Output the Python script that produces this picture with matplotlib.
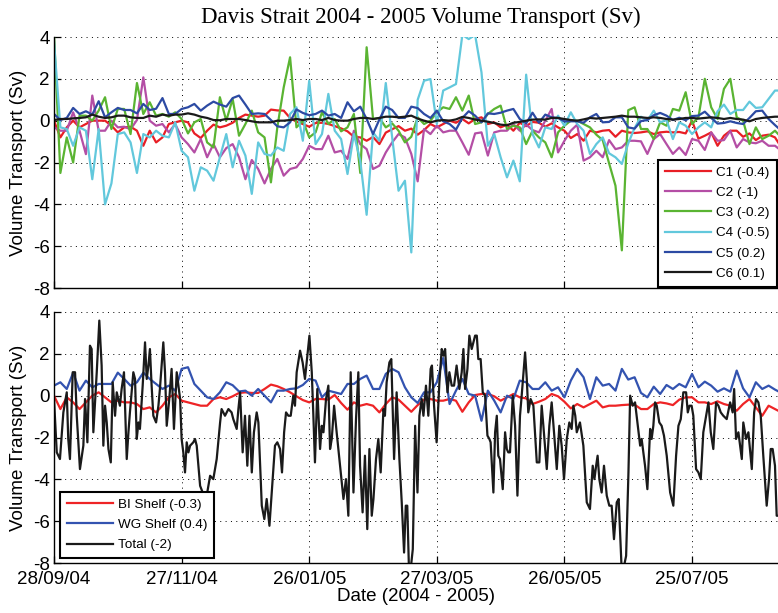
import numpy as np
import pandas as pd
import matplotlib
matplotlib.use("Agg")
import matplotlib.pyplot as plt

plt.rcParams["font.family"] = ["Liberation Sans", "DejaVu Sans"]
plt.rcParams["axes.unicode_minus"] = False

# ---------------------------------------------------------------------------
# Davis Strait mooring transports (Sv); mooring series on a 3-day grid
# starting 28 Sep 2004, total transport at its own (denser) sample days
# ---------------------------------------------------------------------------
start_date = "2004-09-28"
sample_step_days = 3
n_samples = 115

c1 = [0.0, -0.8, -0.32, 0.0, -0.32, -0.16, 0.0, 0.0, 0.0, -0.24, -0.56, -0.32, -0.29, -0.48,
      -1.2, -0.48, -1.04, -0.8, -0.16, -0.08, 0.0, -0.08, -0.61, -0.83, -0.48, -0.19, -0.32, -0.24,
      -0.1, 0.13, 0.29, 0.24, 0.19, 0.24, 0.53, 0.49, 0.48, 0.13, -0.05, -0.16, -0.29, -0.11, -0.1,
      -0.16, -0.26, -0.37, -0.51, -0.77, -0.8, -0.96, -0.78, -1.12, -0.57, -0.41, -0.26, -0.48, -0.38,
      -0.67, -0.45, -0.16, -0.32, -0.16, 0.0, -0.1, 0.08, -0.13, 0.08, 0.16, -0.16, -0.08, -0.32,
      -0.19, -0.48, -0.1, -0.26, -0.06, -0.1, -0.29, -0.13, -0.32, -0.48, -0.83, -0.64, -0.96, -0.48,
      -0.56, -0.48, -0.45, -0.77, -0.48, -0.56, -0.59, -0.56, -0.51, -0.64, -0.56, -0.53, -0.56, -0.54,
      -0.61, 0.0, -0.86, -0.72, -0.56, -1.2, -0.72, -0.48, -0.48, -0.77, -0.61, -0.93, -0.72, -0.67,
      -0.8, -1.28]

c2 = [-0.32, -0.48, -0.48, 0.4, -0.48, -1.6, 1.2, -0.48, -0.48, 0.0, -0.32, -0.29, -0.41, 0.03,
      2.07, 0.0, -0.24, -0.16, -0.56, -0.16, -0.8, -1.12, -1.52, -0.88, -1.75, -1.12, -1.75, -1.31,
      -1.12, -1.75, -2.8, -1.88, -2.31, -3.0, -2.31, -1.83, -2.63, -2.31, -2.23, -1.83, -1.2, -1.36,
      -1.36, -0.72, -1.52, -1.44, -1.83, -0.48, -1.12, -1.36, -2.31, -2.15, -1.52, -1.04, -0.64, -0.8,
      -1.59,
      -2.9, -0.4, -0.64, -0.24, -0.56, -0.48, -0.48, -1.04, -1.63, -0.61, -0.56, -1.67, -0.56, -0.48,
      -0.48, -0.16, -0.48, -0.19, -0.45, -0.56, 0.0, 0.56, -1.52, -0.96, -0.48, -0.19, -1.91, -1.75,
      -1.44, -1.75, -0.93, -1.36, -1.28, -0.96, -0.96, -0.99, -1.59, -0.88, -0.64, -1.12, -1.59, -1.28,
      -1.64, -0.88, -0.96, -1.4, -0.56, -0.96, -0.93, -0.48, -1.28, -0.88, -1.04, -1.08, -0.96, -1.2,
      -1.2, -1.44]

c3 = [4.1, -2.5, -0.8, -2.0, 0.24, 0.24, 0.0, 0.48, 1.12, -0.4, 0.56, 0.56, -0.64, 1.8,
      0.32, 0.88, 0.24, 0.32, 0.19, 0.4, 0.08, -0.61, -0.08, 0.08, -1.04, -1.28, 1.12, 0.0,
      1.04, -0.72, -0.16, 0.48, -0.56, -0.8, -2.95, -0.32, 1.59, 3.03, -0.32, 0.0, -0.8, -0.56,
      0.4, -0.16, 0.08, -0.51, -0.32, 0.32, -2.5, 3.51, 0.08, 0.13, -0.32, -0.13, -0.48, -1.04,
      -0.77,
      0.16, -0.16, 0.0, 0.4, 0.64, 0.56, 1.12, 0.48, 1.2, -0.16, -0.08, 0.32, 0.56, 0.72,
      -0.4, -0.24, -0.32, -1.12, -0.48, -0.8, -1.04, -1.75, -0.56, -0.24, 0.0, 0.0, -0.16, -0.32,
      -0.67, -0.93, -2.04, -3.11, -6.2, 0.5, 0.64, -0.4, -0.4, -0.88, -0.08, -0.24, 0.56, 0.48,
      1.36, -0.16, 0.16, 2.0, 0.64, 0.08, 1.52, 2.0, 0.16, 0.0, -1.12, -0.32, -0.88, -0.72,
      -0.48, -0.8]

c4 = [3.8, -0.32, -0.4, -1.2, -0.32, -0.48, -2.8, -0.4, -4.0, -3.0, -0.64, -0.56, -1.04, -2.5,
      -0.64, -0.8, -0.48, -0.72, -0.8, -0.08, -1.44, -1.75, -3.35, -2.23, -2.39, -2.87, -1.75, -0.64,
      -2.23, -0.96, -1.67, -3.5, -1.04, -1.59, -1.67, -1.28, -1.44, 0.32, 0.64, -0.96, 1.91, -1.12,
      -0.64, 1.28, -0.48, -0.88, -2.55, -0.64, -1.91, -4.5, -0.56, -0.96, 1.8, -0.8, -3.35, -2.87,
      -6.3,
      1.0, 1.91, 1.99, -0.16, 1.44, 1.59, 1.75, 4.1, 3.9, 4.1, 2.31, -1.2, -0.64, -1.75,
      -2.71, -1.91, -2.9, 2.2, -0.64, -1.28, -0.32, -0.4, 0.24, -0.24, 0.4, -0.16, -0.48, -1.59,
      -1.12, -0.8, -1.56, -1.75, -2.07, -1.08, -0.35, 0.19, 0.0, 0.48, -0.08, 0.03, -0.88, -0.08,
      -0.24, -0.64, -0.32, -0.08, -0.32, 0.45, 0.77, 0.32, 0.51, 0.51, 0.91, 0.61, 0.64, 1.04,
      1.44, 1.44]

c5 = [0.32, 0.03, 0.13, 0.61, 0.32, 0.45, 0.29, 0.93, 0.16, 0.4, 0.61, 0.51, 0.51, 0.35,
      0.8, 0.51, 0.57, 1.08, 0.32, 0.32, 0.56, 0.64, 0.8, 0.48, 0.72, 0.91, 0.77, 0.67,
      1.08, 1.2, 0.77, 0.32, 0.35, 0.32, 0.03, -0.27, -0.32, -0.08, 0.54, 0.37, 0.26, 0.32,
      0.48, 0.24, 0.32, 0.13, 0.88, 0.45, 0.67, 0.08, -0.64, 0.06, 0.67, 0.51, 0.13, 0.13,
      0.67,
      0.6, 0.32, 0.13, 0.48, -0.03, -0.16, -0.43, 0.13, 0.45, 0.24, -0.08, 0.35, 0.32, 0.38,
      0.48, 0.56, 0.08, -0.13, 0.38, -0.1, 0.29, 0.16, 0.13, -0.03, -0.03, -0.03, -0.1, 0.16,
      0.32, -0.08, -0.06, 0.16, 0.16, -0.32, -0.38, -0.02, 0.03, 0.26, 0.37, 0.24, 0.03, 0.14,
      0.02, 0.22, 0.24, 0.43, 0.13, -0.14, -0.11, -0.03, -0.11, -0.16, 0.13, 0.45, 0.48, 0.08,
      -0.21, -0.48]

c6 = [0.03, 0.08, 0.08, 0.11, 0.13, 0.16, 0.29, 0.19, 0.13, 0.16, 0.24, 0.24, 0.16, 0.13,
      0.13, 0.24, 0.19, 0.29, 0.24, 0.29, 0.29, 0.35, 0.29, 0.19, 0.13, 0.03, 0.02, 0.08,
      0.08, 0.08, 0.03, -0.03, -0.08, -0.08, -0.08, 0.0, 0.0, 0.03, 0.08, 0.03, 0.08, 0.08,
      0.03, 0.13, 0.03, 0.0, 0.0, 0.08, 0.13, 0.13, 0.08, 0.13, 0.19, 0.19, 0.16, 0.19,
      0.24,
      0.1, 0.0, -0.08, 0.0, 0.03, 0.0, 0.06, 0.18, 0.13, 0.05, 0.0, -0.05, -0.11, -0.19,
      -0.22, -0.1, -0.06, 0.0, 0.05, 0.06, 0.05, 0.13, 0.13, 0.08, 0.03, 0.0, 0.06, 0.13,
      0.1, 0.13, 0.16, 0.19, 0.24, 0.19, 0.19, 0.16, 0.13, 0.16, 0.13, 0.08, 0.05, 0.08,
      0.13, 0.13, 0.1, 0.13, 0.16, 0.13, 0.08, 0.13, 0.08, 0.05, -0.03, 0.08, 0.13, 0.16,
      0.19, 0.19]

bi_shelf = [0.0, -0.64, -0.08, -0.32, -0.64, -0.32, 0.0, 0.16, -0.08, -0.32, -0.24, -0.32, -0.32, -0.4,
            -0.64, -0.56, -0.8, -0.48, -0.08, 0.08, -0.24, -0.32, -0.4, -0.48, -0.48, -0.16, -0.08, -0.16,
            -0.03, 0.13, 0.16, 0.13, 0.13, 0.32, 0.53, 0.45, 0.32, 0.16, -0.03, -0.21, -0.32, -0.16,
            -0.16, -0.19, 0.03, -0.35, -0.67, -0.32, -0.48, -0.4, -0.48, -0.8, -0.4, -0.08, -0.19, -0.48,
            -0.77,
            -0.45, -0.19, -0.16, -0.24, -0.24, -0.16, -0.24, -0.77, -0.32, 0.03, 0.08, 0.08, -0.03, -0.24,
            -0.08, 0.08, -0.08, -0.13, -0.4, -0.29, -0.16, 0.08, -0.03, -0.29, -0.61, -0.4, -0.56, -0.4,
            -0.24, -0.56, -0.48, -0.48, -0.45, -0.43, -0.43, -0.64, -0.64, -0.4, -0.32, -0.37, -0.45, -0.19,
            -0.08, -0.08, -0.32, -0.32, -0.4, -0.27, -0.4, -0.48, -0.72, -0.4, -0.16, -0.56, -0.96, -0.48,
            -0.64, -0.8]

wg_shelf = [0.48, 0.64, 0.32, 1.1, 0.24, 0.72, 0.4, 0.56, 0.56, 0.56, 1.1, 0.8, 0.48, 0.64,
            1.1, 0.8, 0.56, 0.32, 0.48, 0.24, 1.28, 1.36, 0.56, 0.24, -0.08, -0.16, 0.16, 0.64,
            0.5, 0.2, 0.24, 0.0, 0.32, 0.0, -0.32, 0.24, 0.24, 0.32, 0.35, 0.51, 0.8, 0.72,
            -0.08, 0.24, 0.16, 0.08, 0.56, 0.56, 0.8, 0.96, 0.32, 0.32, 1.04, 1.28, 1.12, 0.4,
            -0.08,
            -0.35, 0.16, 0.16, 0.64, 1.8, -0.4, 0.24, 0.8, 0.08, 0.0, -1.2, 0.24, -0.24, -0.8,
            0.0, -0.16, 0.72, 0.64, 0.32, 0.32, 0.64, 0.24, 0.4, -0.08, 0.72, 1.28, 0.88, -0.16,
            0.88, 0.48, 0.56, 0.24, 1.28, 0.77, 0.88, 0.13, -0.08, 0.43, 0.08, 0.51, 0.32, 0.56,
            0.4, 1.04, 0.4, 0.67, 0.48, 0.19, 0.35, 0.19, 1.2, 0.35, -0.08, 0.64, 0.32, 0.48,
            0.29, 0.13]

# Total transport: sample day (days after 28 Sep 2004) and value (Sv)
total_days = [
    0.0, 1.3, 2.8, 4.4, 6.0, 6.7, 7.5, 8.8, 9.9, 10.7, 12.2, 13.8, 14.6, 15.7, 16.9, 17.7, 18.5,
    20.1, 21.3, 22.4, 23.2, 24.0, 24.8, 25.6, 26.7, 27.6, 28.7, 29.5, 31.0, 31.8, 32.9, 34.2, 35.0,
    35.7, 37.3, 38.1, 38.9, 39.7, 40.4, 41.7, 42.8, 43.6, 44.4, 45.1, 45.9, 46.7, 48.0, 49.1, 49.8,
    51.4, 52.2, 53.0, 54.2, 55.3, 56.4, 57.7, 59.3, 60.0, 60.8, 61.6, 62.4, 63.2, 64.0, 65.5, 66.3,
    67.1, 67.9, 68.7, 69.9, 71.0, 72.6, 73.4, 74.9, 76.5, 78.1, 78.8, 80.4, 82.0, 83.5, 84.3, 85.9,
    86.7, 87.5, 88.7, 89.8, 90.9, 91.9, 93.0, 94.0, 95.3, 96.1, 97.7, 98.9, 100.0, 101.3, 102.4,
    103.9, 105.0, 106.3, 107.2, 108.2, 109.1, 110.2, 111.3, 112.5, 113.3, 114.1, 115.7, 116.9,
    118.0, 119.1, 120.1, 121.2, 121.9, 122.7, 123.8, 125.1, 125.9, 126.7, 127.9, 129.0, 129.8,
    130.6, 131.7, 132.9, 134.5, 136.1, 137.3, 138.4, 139.5, 140.8, 142.0, 143.1, 143.9, 145.1,
    146.2, 147.3, 148.3, 149.4, 150.2, 151.4, 152.5, 153.6, 154.9, 155.6, 156.4, 157.7, 158.6,
    159.9, 161.1, 162.4, 163.5, 164.6, 165.4, 166.1, 166.9, 167.7, 168.7, 169.8, 170.9, 171.8,
    172.9, 173.7, 174.9, 176.0, 177.1, 177.7, 178.7, 179.9, 181.2, 182.3, 183.1, 183.9, 185.0,
    185.9, 187.0, 188.1, 189.3, 190.6, 191.7, 192.5, 193.3, 194.4, 195.3, 196.4, 198.0, 198.8,
    199.5, 200.6, 201.6, 202.7, 203.8, 204.7, 205.3, 206.6, 207.4, 208.2, 208.9, 209.7, 211.0,
    212.1, 212.9, 213.6, 214.4, 215.7, 216.8, 217.9, 219.1, 219.9, 221.5, 222.3, 223.0, 224.1,
    225.4, 227.0, 228.2, 229.3, 230.1, 231.7, 232.9, 234.0, 235.1, 236.4, 237.6, 238.7, 239.8,
    241.1, 242.3, 243.4, 244.2, 245.1, 245.8, 247.3, 248.9, 250.5, 252.0, 253.3, 254.1, 254.9,
    255.6,
    256.4, 257.5, 258.6, 259.9, 261.1, 262.2, 263.3, 264.6, 265.5, 266.9, 267.7, 269.0, 270.1,
    270.9, 272.1, 273.2, 274.3, 275.6, 276.3, 277.9, 279.0, 280.3, 281.0, 281.8, 282.6, 283.4,
    284.6, 285.7, 286.8, 288.1, 289.7, 291.2, 292.5, 293.6, 294.7, 295.9, 297.2, 298.0, 298.8,
    299.8, 300.6, 301.9, 303.0, 304.1, 305.3, 306.6, 307.7, 308.8, 310.0, 311.3, 312.4, 313.5,
    314.7, 316.3, 317.9, 319.1, 319.8, 320.7, 321.8, 322.6, 323.4, 324.1, 325.4, 326.5, 328.1,
    329.2, 330.1, 331.2, 332.3, 333.5, 335.1, 336.2, 337.0, 337.9, 339.0, 339.8, 342.0]

total = [
    -0.16, -2.71, -3.03, -0.80, 0.16, -2.07, -3.03, 1.12, 1.12, -0.96, -3.51, -2.39, -0.16, -2.23,
    2.39, 2.23, -1.75, 1.12, 3.59, 1.44, -2.39, -0.48, -1.28, -2.55, -3.19, 0.64, -0.96, 0.16,
    -0.48, 0.32, 1.12, -3.03, -1.75, -0.80, 1.12, 0.80, -2.07, -1.28, -1.59, 0.48, 2.55, 0.80,
    1.44, 2.23, 0.48, -0.96, -1.28, -0.48, 0.32, 2.55, 1.12, -1.44, -0.16, 1.28, -1.59, 1.12,
    -0.16, -2.07, -2.71, -3.67, -2.23, -2.71, -2.39, -2.23, -2.07, -2.39, -3.35, -4.31, -4.63,
    -5.26, -4.31, -3.83, -3.99, -3.03, -1.28, -0.64, -0.96, -0.64, -0.80, -1.12, -1.59,
    -0.64, 0.16, -2.71, -0.96, -3.35, -0.96, -3.67, -1.75, -0.80, -1.28, -5.26, -5.90, -4.94,
    -6.22, -4.63, -2.39, -2.23, -2.55, -3.67, -1.75, -0.80, -0.96, -0.96, 0.00, -0.48, 1.12,
    2.15, 1.59, 0.80, 1.91, 2.87, 1.12, -0.80, -3.19, 0.32, -2.55, -1.44, -1.75, -0.16, 0.48,
    -2.55, -2.07, -0.48, -1.75, -3.35, -4.94, -3.99, -5.74, 1.12, -4.63, -1.12, 1.12, -3.35,
    -5.58, -2.87, -6.38, -2.55, -5.74, -4.94, -3.03, -2.07, -3.67, -0.64, -0.96, 0.64, 1.59,
    1.75, -3.03, 0.16, -3.03, -5.10, -7.50, -5.26, -5.26, -8.3, -8.3, -7.34, -1.44, -4.63, -0.96,
    -0.16, -0.96, 0.48, -0.96, 1.28, 1.44, -0.48, -2.23, 0.64, 2.23, 1.91, 2.23, 0.16, 1.12,
    0.48, 0.48, 1.44, 0.32, 1.12, 2.23, 0.32, 1.28, 2.87, 2.23, 2.87, 2.87, 1.75, 1.75, 0.16,
    0.00, -1.91, -2.07, -2.23, -4.63, -1.75, -0.96, -2.87, -3.03, -4.47, -1.75, -2.55, -2.71,
    -2.71, 0.00, -1.44, -4.78, -0.96, 0.00, 2.07, 0.80, -0.80, -0.16, -0.48, -3.19, -3.19, -0.48,
    -1.44, -3.51, -1.44, -0.32, -1.75, -3.51, -1.44, -2.39, -3.99, -2.07, -1.28, -1.59, -0.48,
    -0.96, -1.75, -1.28, -2.39, -5.10, -5.42, -3.35, -3.99, -3.35, -2.87,
    -3.99, -4.63, -3.35, -4.78, -5.26, -5.26, -6.86, -5.10, -4.94, -8.3, -8.3, -7.66, -3.67,
    0.00, -0.48, -0.32, -1.28, -2.39, -2.07, -3.35, -4.47, -1.59, -2.07, -1.44, -0.32, -0.48,
    -1.28, -1.44, -1.91, -2.87, -4.63, -5.26, -2.87, -1.44, -1.12, 0.16, 0.16, -0.80, -0.48,
    -0.48, -0.96, -3.51, -3.67, -3.99, -1.75, -0.96, -0.32, -1.75, -2.55, -0.32, -0.48, -0.80,
    -0.96, -1.12, -0.32, -0.80, 0.32, -2.07, -1.75, -2.39, -3.03, -1.28, -2.07, -1.75, -3.51,
    -0.80, -0.16, -0.32, -0.96, -2.87, -5.26, -3.99, -2.55, -2.55, -3.35, -5.74, -5.74]

upper_labels = ["C1 (-0.4)", "C2 (-1)", "C3 (-0.2)", "C4 (-0.5)", "C5 (0.2)", "C6 (0.1)"]
upper_colors = ["#e81e25", "#b44ea5", "#5ab432", "#62c8dc", "#2c4aa3", "#1a1a1a"]
lower_labels = ["BI Shelf (-0.3)", "WG Shelf (0.4)", "Total (-2)"]
lower_colors = ["#ee2426", "#3353b0", "#1a1a1a"]

date_tick_labels = ["28/09/04", "27/11/04", "26/01/05", "27/03/05", "26/05/05", "25/07/05"]
y_ticks = [-8, -6, -4, -2, 0, 2, 4]

x_start = pd.Timestamp(start_date)
dates = pd.date_range(start_date, periods=n_samples, freq=f"{sample_step_days}D")
total_dates = x_start + pd.to_timedelta(total_days, unit="D")
tick_dates = pd.to_datetime(date_tick_labels, format="%d/%m/%y")
x_end = x_start + pd.Timedelta(hours=8170)

# ---------------------------------------------------------------------------
W, H = 778, 613
fig = plt.figure(figsize=(W / 100, H / 100), dpi=100)
left = 54 / W
width = 1.0 - left
ax1 = fig.add_axes([left, 1 - 288 / H, width, (288 - 37) / H])
ax2 = fig.add_axes([left, 1 - 563 / H, width, (563 - 312) / H])

upper_series = [c1, c2, c3, c4, c5, c6]
upper_lines = []
for vals, col in zip(upper_series, upper_colors):
    ln, = ax1.plot(dates, vals, color=col, lw=1.6, solid_joinstyle="round")
    upper_lines.append(ln)

lower_lines = []
for x, vals, col in zip([dates, dates, total_dates], [bi_shelf, wg_shelf, total], lower_colors):
    ln, = ax2.plot(x, vals, color=col, lw=1.6, solid_joinstyle="round")
    lower_lines.append(ln)

for ax in (ax1, ax2):
    ax.set_xlim(x_start, x_end)
    ax.set_ylim(-8, 4)
    ax.set_yticks(y_ticks)
    ax.set_yticklabels([str(v) for v in y_ticks])
    ax.set_xticks(tick_dates)
    ax.grid(True, color="k", linestyle=(0, (1, 4.5)), linewidth=0.7)
    ax.spines["top"].set_visible(False)
    ax.spines["right"].set_visible(False)
    for s in ("left", "bottom"):
        ax.spines[s].set_linewidth(1.0)
    ax.tick_params(direction="in", length=5, width=0.9, labelsize=13.5, pad=3,
                   top=False, right=False)
    ax.set_ylabel("Volume Transport (Sv)", fontsize=13.5, labelpad=4)

ax1.set_xticklabels([])
ax2.set_xticklabels(date_tick_labels)
ax2.tick_params(axis="x", pad=5.5)
ax2.set_xlabel("Date (2004 - 2005)", fontsize=13.5, labelpad=0)

fig.text(421 / W, 1 - 17 / H, "Davis Strait 2004 - 2005 Volume Transport (Sv)",
         ha="center", va="center", fontsize=16.5, family="Liberation Serif")

leg_kw = dict(fontsize=9.7, handlelength=3.4, handletextpad=0.4, labelspacing=0.58,
              borderpad=0.5, fancybox=False, edgecolor="k", framealpha=1.0)
leg1 = ax1.legend(upper_lines, upper_labels, loc="lower right", bbox_to_anchor=(1.0, 0.0),
                  borderaxespad=0.1, **leg_kw)
leg1.get_frame().set_linewidth(1.5)

leg2 = ax2.legend(lower_lines, lower_labels, loc="lower left",
                  bbox_to_anchor=(6 / (W - 54), 5 / 251), borderaxespad=0.0, **leg_kw)
leg2.get_frame().set_linewidth(1.5)

fig.savefig("out.png", dpi=100)
